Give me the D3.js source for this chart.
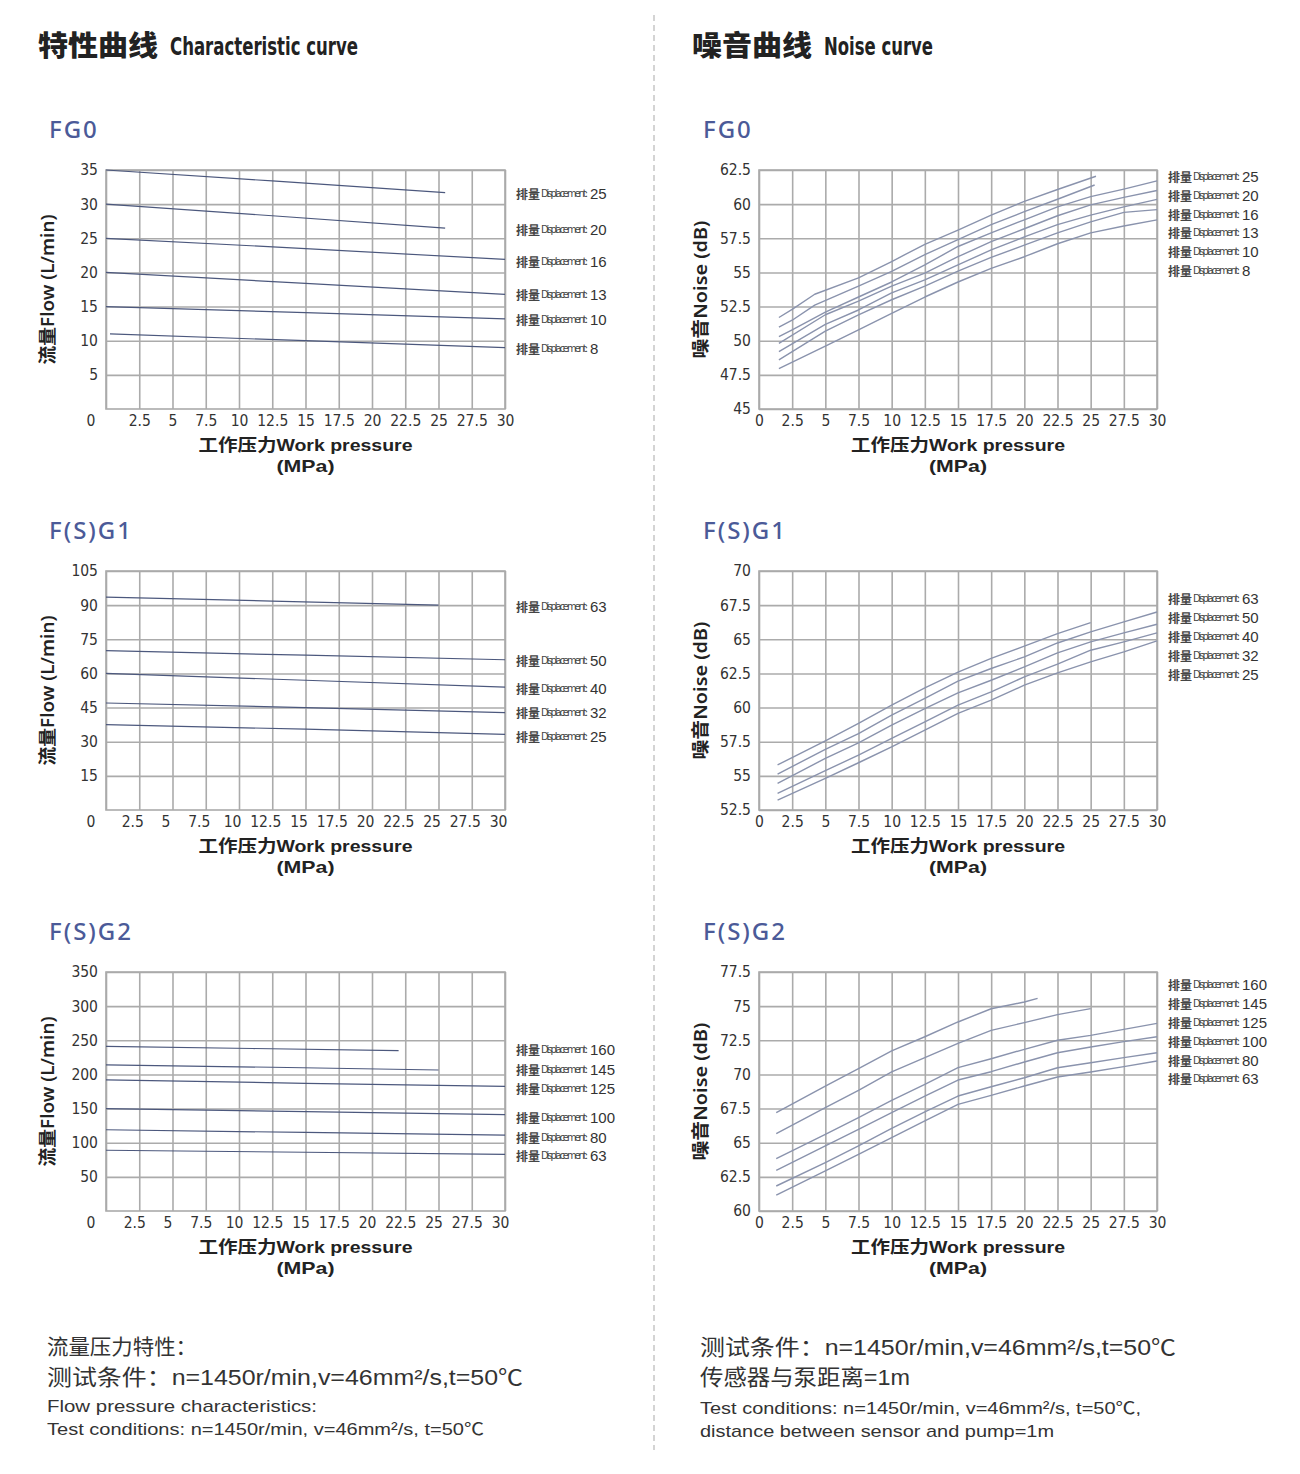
<!DOCTYPE html>
<html><head><meta charset="utf-8">
<script src="https://cdn.jsdelivr.net/npm/d3@7/dist/d3.min.js"></script>
<style>body{margin:0;background:#fff;}svg{display:block;}</style>
</head><body>
<svg id="c" width="1300" height="1474"></svg>
<script>
// ---------- DATA ----------
const pressureTicks = [0,2.5,5,7.5,10,12.5,15,17.5,20,22.5,25,27.5,30];

const fg0FlowTicks = [5,10,15,20,25,30,35];
const fg0FlowLabels = ["25","20","16","13","10","8"];
const fg0Flow25 = [[0,35],[12.5,33.4],[25.5,31.7]];
const fg0Flow20 = [[0,30],[12.5,28.3],[25.5,26.5]];
const fg0Flow16 = [[0,25],[15,23.5],[30,21.9]];
const fg0Flow13 = [[0,20],[15,18.4],[30,16.8]];
const fg0Flow10 = [[0,15],[15,14.1],[30,13.2]];
const fg0Flow8  = [[0.3,11],[15,10],[30,9]];

const g1FlowTicks = [15,30,45,60,75,90,105];
const g1FlowLabels = ["63","50","40","32","25"];
const g1Flow63 = [[0,93.5],[12.5,91.8],[25,90]];
const g1Flow50 = [[0,70],[15,68],[30,66]];
const g1Flow40 = [[0,60],[15,57],[30,54]];
const g1Flow32 = [[0,47],[15,45],[30,42.8]];
const g1Flow25 = [[0,37.5],[15,35.5],[30,33.2]];

const g2FlowTicks = [50,100,150,200,250,300,350];
const g2FlowLabels = ["160","145","125","100","80","63"];
const g2Flow160 = [[0,241],[11,238],[22,235]];
const g2Flow145 = [[0,214],[12.5,210.5],[25,206.5]];
const g2Flow125 = [[0,192],[15,187],[30,182.5]];
const g2Flow100 = [[0,150],[15,145.5],[30,141]];
const g2Flow80  = [[0,119],[15,115],[30,111]];
const g2Flow63  = [[0,89],[15,86],[30,83]];

const fg0NoiseTicks = [45,47.5,50,52.5,55,57.5,60,62.5];
const fg0NoiseLabels = ["25","20","16","13","10","8"];
const fg0NoiseA = [[1.5,51.7],[2.5,52.3],[4.2,53.4],[7.5,54.6],[10,55.8],[12.5,57.06],[15,58.1],[17.5,59.2],[20,60.2],[22.5,61.07],[25.4,62.04]];
const fg0NoiseB = [[1.5,51.0],[2.5,51.5],[4.2,52.6],[7.5,54.0],[10,55.07],[12.5,56.3],[15,57.4],[17.5,58.5],[20,59.45],[22.5,60.36],[25.3,61.4]];
const fg0NoiseC = [[1.5,50.3],[2.5,50.8],[5,52.1],[7.5,53.2],[10,54.3],[12.5,55.55],[15,56.9],[17.5,57.9],[20,58.85],[22.5,59.8],[25,60.55],[27.5,61.1],[30,61.7]];
const fg0NoiseD = [[1.5,49.8],[5,51.9],[7.5,52.9],[10,54.0],[12.5,54.95],[15,56.15],[17.5,57.25],[20,58.2],[22.5,59.15],[25,59.95],[27.5,60.5],[30,61.0]];
const fg0NoiseE = [[1.5,49.2],[5,51.2],[7.5,52.25],[10,53.5],[12.5,54.45],[15,55.55],[17.5,56.65],[20,57.6],[22.5,58.5],[25,59.2],[27.5,59.8],[30,60.35]];
const fg0NoiseF = [[1.5,48.6],[5,50.7],[7.5,51.9],[10,53.0],[12.5,54.0],[15,55.1],[17.5,56.1],[20,57.0],[22.5,57.9],[25,58.7],[27.5,59.4],[30,59.6]];
const fg0NoiseG = [[1.5,47.95],[5,49.6],[7.5,50.8],[10,52.0],[12.5,53.2],[15,54.3],[17.5,55.3],[20,56.15],[22.5,57.1],[25,57.9],[27.5,58.4],[30,58.85]];

const g1NoiseTicks = [52.5,55,57.5,60,62.5,65,67.5,70];
const g1NoiseLabels = ["63","50","40","32","25"];
const g1Noise63 = [[1.4,55.8],[5,57.57],[7.5,58.84],[10,60.18],[12.5,61.45],[15,62.6],[17.5,63.6],[20,64.5],[22.5,65.42],[25,66.22]];
const g1Noise50 = [[1.4,55.13],[5,56.94],[7.5,58.1],[10,59.45],[12.5,60.67],[15,61.93],[17.5,62.86],[20,63.71],[22.5,64.73],[25,65.54],[27.5,66.27],[30,67.0]];
const g1Noise40 = [[1.4,54.45],[5,56.28],[7.5,57.42],[10,58.72],[12.5,59.93],[15,61.08],[17.5,62.0],[20,62.98],[22.5,64.0],[25,64.81],[27.5,65.47],[30,66.1]];
const g1Noise32 = [[1.4,53.72],[5,55.38],[7.5,56.52],[10,57.74],[12.5,58.96],[15,60.18],[17.5,61.15],[20,62.25],[22.5,63.18],[25,64.2],[27.5,64.81],[30,65.47]];
const g1Noise25 = [[1.4,53.23],[5,54.82],[7.5,55.96],[10,57.13],[12.5,58.35],[15,59.57],[17.5,60.54],[20,61.64],[22.5,62.54],[25,63.35],[27.5,64.08],[30,64.88]];

const g2NoiseTicks = [60,62.5,65,67.5,70,72.5,75,77.5];
const g2NoiseLabels = ["160","145","125","100","80","63"];
const g2Noise160 = [[1.3,67.2],[5,69.15],[7.5,70.42],[10,71.72],[12.5,72.76],[15,73.84],[17.5,74.81],[20,75.3],[21,75.57]];
const g2Noise145 = [[1.3,65.66],[5,67.57],[7.5,68.84],[10,70.18],[12.5,71.23],[15,72.28],[17.5,73.23],[20,73.79],[22.5,74.38],[25,74.82]];
const g2Noise125 = [[1.3,63.83],[5,65.61],[7.5,66.83],[10,68.1],[12.5,69.27],[15,70.5],[17.5,71.15],[20,71.84],[22.5,72.5],[25,72.86],[27.5,73.3],[30,73.74]];
const g2Noise100 = [[1.3,62.98],[5,64.76],[7.5,65.98],[10,67.2],[12.5,68.42],[15,69.59],[17.5,70.2],[20,70.91],[22.5,71.59],[25,72.01],[27.5,72.4],[30,72.76]];
const g2Noise80  = [[1.3,61.83],[5,63.54],[7.5,64.76],[10,66.05],[12.5,67.25],[15,68.42],[17.5,69.1],[20,69.76],[22.5,70.49],[25,70.86],[27.5,71.23],[30,71.59]];
const g2Noise63  = [[1.3,61.17],[5,62.93],[7.5,64.15],[10,65.37],[12.5,66.59],[15,67.81],[17.5,68.47],[20,69.15],[22.5,69.81],[25,70.18],[27.5,70.57],[30,70.98]];

// ---------- DRAW ----------
const svg = d3.select('#c');
const NARROW = "'Liberation Sans Narrow','Arial Narrow','DejaVu Sans Condensed',sans-serif";
const SANS = "'Liberation Sans','Noto Sans',Arial,sans-serif";
const CJK = "'Noto Sans CJK SC','Noto Sans',sans-serif";
const GRID = '#ababab';

// measure the legend's condensed word once so it can be squeezed with letter-spacing
const DISP_SIZE = 11, DISP_W = 45;
const meas = svg.append('text').attr('font-family', NARROW).attr('font-size', DISP_SIZE).text('Displacement:');
const dispNat = meas.node().getComputedTextLength();
meas.remove();
const dispLS = (DISP_W - dispNat) / 13;

function drawChart(cfg) {
  const g = svg.append('g');
  const x = d3.scaleLinear().domain([0,30]).range([cfg.left, cfg.right]);
  const y = d3.scaleLinear().domain([cfg.yTicks[0] - (cfg.flow ? cfg.yTicks[0] : 0), cfg.yTicks[cfg.yTicks.length-1]]).range([cfg.bottom, cfg.top]);
  const h = cfg.bottom - cfg.top, w = cfg.right - cfg.left;

  // x axis with vertical grid
  const xa = g.append('g').attr('transform', `translate(0,${cfg.bottom})`)
    .call(d3.axisBottom(x).tickValues(pressureTicks).tickSize(-h).tickPadding(6).tickFormat(d => String(d)));
  xa.select('.domain').remove();
  xa.selectAll('line').attr('stroke', GRID).attr('stroke-width', 1.6);
  xa.selectAll('text').attr('font-family', NARROW).attr('font-size', 15.5).attr('fill', '#333')
    .attr('dx', cfg.xLabelShift || 0);
  if (cfg.flow) xa.selectAll('.tick').filter(d => d === 0).select('text').remove();

  // y axis with horizontal grid
  const ya = g.append('g').attr('transform', `translate(${cfg.left},0)`)
    .call(d3.axisLeft(y).tickValues(cfg.yTicks).tickSize(-w).tickPadding(8).tickFormat(d => String(d)));
  ya.select('.domain').remove();
  ya.selectAll('line').attr('stroke', GRID).attr('stroke-width', 1.6);
  ya.selectAll('text').attr('font-family', NARROW).attr('font-size', 15.5).attr('fill', '#333');

  // border
  g.append('rect').attr('x', cfg.left).attr('y', cfg.top).attr('width', w).attr('height', h)
    .attr('fill', 'none').attr('stroke', GRID).attr('stroke-width', 1.6);

  if (cfg.flow) {
    g.append('text').attr('x', cfg.left - 15).attr('y', cfg.bottom + 12).attr('text-anchor', 'middle')
      .attr('dominant-baseline', 'middle').attr('font-family', NARROW).attr('font-size', 15.5).attr('fill', '#333').text('0');
  }

  // series
  const line = d3.line().x(d => x(d[0])).y(d => y(d[1]));
  g.selectAll('path.s').data(cfg.series).join('path').attr('class', 's')
    .attr('d', line).attr('fill', 'none')
    .attr('stroke', cfg.flow ? '#4c587d' : '#8a93ad').attr('stroke-width', cfg.flow ? 1.2 : 1.4)
    .attr('stroke-linejoin', 'round');

  // legend labels (single text element per label)
  cfg.labels.forEach((lab, i) => {
    const lx = cfg.right + 11, ly = cfg.labelY[i];
    const t = g.append('text').attr('x', lx).attr('y', ly).attr('dominant-baseline', 'central');
    t.append('tspan').attr('font-family', CJK).attr('font-weight', 700).attr('font-size', 12)
      .attr('fill', '#454545').text('排量');
    t.append('tspan').attr('dx', 1).attr('font-family', NARROW).attr('font-size', DISP_SIZE)
      .attr('letter-spacing', dispLS).attr('fill', '#454545').text('Displacement:');
    t.append('tspan').attr('dx', 2 - dispLS).attr('font-family', SANS).attr('font-size', 15)
      .attr('letter-spacing', 0).attr('fill', '#333').text(lab);
  });

  // axis titles
  const cx = (cfg.left + cfg.right) / 2;
  g.append('text').attr('x', cx).attr('y', cfg.bottom + 42).attr('text-anchor', 'middle')
    .attr('font-family', "'Liberation Sans','Noto Sans CJK SC',sans-serif")
    .attr('font-weight', 700).attr('font-size', 17).attr('fill', '#222')
    .attr('textLength', 214).attr('lengthAdjust', 'spacingAndGlyphs').text('工作压力Work pressure');
  g.append('text').attr('x', cx).attr('y', cfg.bottom + 63).attr('text-anchor', 'middle')
    .attr('font-family', "'Liberation Sans',sans-serif")
    .attr('font-weight', 700).attr('font-size', 17).attr('fill', '#222')
    .attr('textLength', 58).attr('lengthAdjust', 'spacingAndGlyphs').text('(MPa)');
  const ty = cfg.top + h / 2;
  g.append('text').attr('transform', `translate(${cfg.titleX},${ty}) rotate(-90)`)
    .attr('text-anchor', 'middle').attr('dominant-baseline', 'central')
    .attr('font-family', "'Noto Sans','Noto Sans CJK SC',sans-serif").attr('font-weight', 600)
    .attr('font-size', 18).attr('fill', '#222')
    .attr('textLength', cfg.titleLen).attr('lengthAdjust', 'spacingAndGlyphs').text(cfg.yTitle);

  // chart name
  g.append('text').attr('x', cfg.nameX).attr('y', cfg.top - 42).attr('dominant-baseline', 'central')
    .attr('font-family', "'Noto Sans',sans-serif").attr('font-weight', 500).attr('font-size', 24)
    .attr('letter-spacing', 2).attr('fill', '#4b5a98').text(cfg.name);
}

const rowTop = [170, 571, 972];
const PH = 239;
const flowCommon = { flow: true, left: 106, right: 505, titleX: 47, yTitle: '流量Flow (L/min)', titleLen: 150, nameX: 49 };
const noiseCommon = { flow: false, left: 759, right: 1157, titleX: 700, yTitle: '噪音Noise (dB)', titleLen: 138, nameX: 703 };

drawChart(Object.assign({}, flowCommon, { name: 'FG0', top: rowTop[0], bottom: rowTop[0] + PH, yTicks: fg0FlowTicks,
  series: [fg0Flow25, fg0Flow20, fg0Flow16, fg0Flow13, fg0Flow10, fg0Flow8], labels: fg0FlowLabels,
  labelY: [193, 229, 261, 294, 319, 348], xLabelShift: 0 }));
drawChart(Object.assign({}, flowCommon, { name: 'F(S)G1', top: rowTop[1], bottom: rowTop[1] + PH, yTicks: g1FlowTicks,
  series: [g1Flow63, g1Flow50, g1Flow40, g1Flow32, g1Flow25], labels: g1FlowLabels,
  labelY: [606, 660, 688, 712, 736], xLabelShift: -7 }));
drawChart(Object.assign({}, flowCommon, { name: 'F(S)G2', top: rowTop[2], bottom: rowTop[2] + PH, yTicks: g2FlowTicks,
  series: [g2Flow160, g2Flow145, g2Flow125, g2Flow100, g2Flow80, g2Flow63], labels: g2FlowLabels,
  labelY: [1049, 1069, 1088, 1117, 1137, 1155], xLabelShift: -5 }));

drawChart(Object.assign({}, noiseCommon, { name: 'FG0', top: rowTop[0], bottom: rowTop[0] + PH, yTicks: fg0NoiseTicks,
  series: [fg0NoiseA, fg0NoiseB, fg0NoiseC, fg0NoiseD, fg0NoiseE, fg0NoiseF, fg0NoiseG], labels: fg0NoiseLabels,
  labelY: [176, 195, 214, 232, 251, 270] }));
drawChart(Object.assign({}, noiseCommon, { name: 'F(S)G1', top: rowTop[1], bottom: rowTop[1] + PH, yTicks: g1NoiseTicks,
  series: [g1Noise63, g1Noise50, g1Noise40, g1Noise32, g1Noise25], labels: g1NoiseLabels,
  labelY: [598, 617, 636, 655, 674] }));
drawChart(Object.assign({}, noiseCommon, { name: 'F(S)G2', top: rowTop[2], bottom: rowTop[2] + PH, yTicks: g2NoiseTicks,
  series: [g2Noise160, g2Noise145, g2Noise125, g2Noise100, g2Noise80, g2Noise63], labels: g2NoiseLabels,
  labelY: [984, 1003, 1022, 1041, 1060, 1078] }));

// divider
svg.append('line').attr('x1', 654).attr('x2', 654).attr('y1', 15).attr('y2', 1450)
  .attr('stroke', '#b8b8b8').attr('stroke-width', 1.2).attr('stroke-dasharray', '6,4');

// section titles
function sectionTitle(x, zh, en, enLen) {
  svg.append('text').attr('x', x).attr('y', 44).attr('dominant-baseline', 'central')
    .attr('font-family', CJK).attr('font-weight', 900).attr('font-size', 28).attr('fill', '#222')
    .attr('textLength', 120).attr('lengthAdjust', 'spacingAndGlyphs').text(zh);
  svg.append('text').attr('x', x + 132).attr('y', 46).attr('dominant-baseline', 'central')
    .attr('font-family', NARROW).attr('font-weight', 700).attr('font-size', 25).attr('fill', '#222')
    .attr('textLength', enLen).attr('lengthAdjust', 'spacingAndGlyphs').text(en);
}
sectionTitle(38, '特性曲线', 'Characteristic curve', 188);
sectionTitle(692, '噪音曲线', 'Noise curve', 109);

// notes
const notesLeft = [
  { t: '流量压力特性：', y: 1346, s: 21, len: 150 },
  { t: '测试条件：n=1450r/min,v=46mm²/s,t=50℃', y: 1377, s: 22, len: 476 },
  { t: 'Flow pressure characteristics:', y: 1406, s: 17, len: 270 },
  { t: 'Test conditions: n=1450r/min, v=46mm²/s, t=50℃', y: 1429, s: 17, len: 437 }
];
const notesRight = [
  { t: '测试条件：n=1450r/min,v=46mm²/s,t=50℃', y: 1347, s: 22, len: 476 },
  { t: '传感器与泵距离=1m', y: 1377, s: 22, len: 210 },
  { t: 'Test conditions: n=1450r/min, v=46mm²/s, t=50℃,', y: 1408, s: 17, len: 441 },
  { t: 'distance between sensor and pump=1m', y: 1431, s: 17, len: 354 }
];
function notes(x, arr) {
  arr.forEach(n => {
    svg.append('text').attr('x', x).attr('y', n.y).attr('dominant-baseline', 'central')
      .attr('font-family', "'Liberation Sans','Noto Sans CJK SC',sans-serif").attr('font-size', n.s).attr('fill', '#333')
      .attr('textLength', n.len).attr('lengthAdjust', 'spacingAndGlyphs').text(n.t);
  });
}
notes(47, notesLeft);
notes(700, notesRight);
</script>
</body></html>
